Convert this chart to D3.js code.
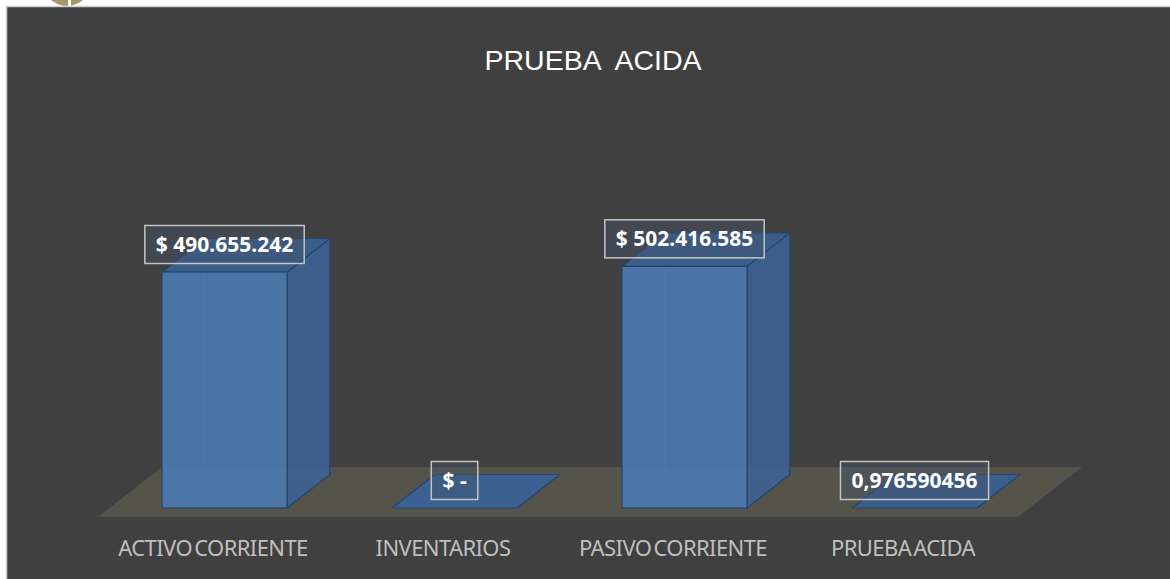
<!DOCTYPE html>
<html>
<head>
<meta charset="utf-8">
<script src="https://cdn.jsdelivr.net/npm/d3@7"></script>
<style>
  body { margin: 0; background: #fff; }
  svg { display: block; }
</style>
</head>
<body>
<div id="chart"></div>
<script>
var categories = ["ACTIVO CORRIENTE", "INVENTARIOS", "PASIVO CORRIENTE", "PRUEBA ACIDA"];
var values = [490655242, 0, 502416585, 0.976590456];
var currency = [true, true, true, false];

var W = 1170, H = 579;

// floor geometry (front edge + depth vector)
var floor = {left: 98, right: 1018, y: 517, dx: 64, dy: -50};
var barFront = 0.18, barBack = 0.85;   // depth fractions

var es = d3.formatLocale({decimal: ",", thousands: ".", grouping: [3], currency: ["$ ", ""]});
function labelText(v, i) {
    if (!currency[i]) return es.format(".9f")(v);
    if (v === 0) return "$ -";
    return es.format("$,.0f")(v);
}

var svg = d3.select("#chart").append("svg")
    .attr("width", W)
    .attr("height", H);

// bit of the logo peeking above the chart
svg.append("ellipse")
    .attr("cx", 67).attr("cy", -20).attr("rx", 25).attr("ry", 26)
    .style("fill", "#a8966e");
svg.append("rect")
    .attr("x", 68).attr("y", 0).attr("width", 3).attr("height", 6)
    .style("fill", "#fff");

svg.append("rect")
    .attr("x", 6.5).attr("y", 6.5)
    .attr("width", W).attr("height", H)
    .style("fill", "#404040")
    .style("stroke", "#cfcfcf")
    .style("stroke-width", 1.5);

// title
svg.append("text")
    .attr("x", 593).attr("y", 70)
    .attr("text-anchor", "middle")
    .style("font-family", "'Liberation Sans', Arial, sans-serif")
    .style("font-size", "28.5px")
    .style("fill", "#fff")
    .style("white-space", "pre")
    .text("PRUEBA  ACIDA");

// category scale across the floor front edge
var xCat = d3.scaleBand()
    .domain(categories)
    .range([floor.left, floor.right])
    .padding(0);

// bars sit inside each category slot
var xBar = d3.scaleBand()
    .domain(categories)
    .range([floor.left, floor.right])
    .paddingInner(0.4565)
    .paddingOuter(0.4565 / 2);

var yH = d3.scaleLinear()
    .domain([0, 600000000])
    .range([0, 288.6]);

function pts(a) {
    return a.map(function (p) { return p[0] + "," + p[1]; }).join(" ");
}

// floor
svg.append("polygon")
    .attr("points", pts([
        [floor.left, floor.y],
        [floor.right, floor.y],
        [floor.right + floor.dx, floor.y + floor.dy],
        [floor.left + floor.dx, floor.y + floor.dy]
    ]))
    .style("fill", "#55544b");

var offX = floor.dx * barFront, offY = floor.dy * barFront;
var dX = floor.dx * (barBack - barFront), dY = floor.dy * (barBack - barFront);

var bars = categories.map(function (c, i) {
    var x0 = xBar(c) + offX,
        x1 = x0 + xBar.bandwidth(),
        yb = floor.y + offY,
        yt = yb - yH(values[i]);
    return {cat: c, value: values[i], i: i, x0: x0, x1: x1, yb: yb, yt: yt};
});

var g = svg.selectAll(".bar3d")
    .data(bars)
    .enter()
    .append("g")
    .attr("class", "bar3d");

// hidden back edges, seen faintly through the faces
g.filter(function (d) { return d.yt < d.yb; })
    .append("polyline")
    .attr("points", function (d) {
        return pts([[d.x0 + dX, d.yt + dY], [d.x0 + dX, d.yb + dY], [d.x1 + dX, d.yb + dY]]);
    })
    .style("fill", "none")
    .style("stroke", "#5b86bb")
    .style("stroke-width", 1);
g.filter(function (d) { return d.yt < d.yb; })
    .append("line")
    .attr("x1", function (d) { return d.x0; })
    .attr("y1", function (d) { return d.yb; })
    .attr("x2", function (d) { return d.x0 + dX; })
    .attr("y2", function (d) { return d.yb + dY; })
    .style("stroke", "#5b86bb")
    .style("stroke-width", 1);

// side
g.filter(function (d) { return d.yt < d.yb; })
    .append("polygon")
    .attr("points", function (d) {
        return pts([[d.x1, d.yb], [d.x1 + dX, d.yb + dY], [d.x1 + dX, d.yt + dY], [d.x1, d.yt]]);
    })
    .style("fill", "#3d6190")
    .style("fill-opacity", 0.93)
    .style("stroke", "#27456c")
    .style("stroke-width", 1.2)
    .style("stroke-linejoin", "round");

// top
g.append("polygon")
    .attr("points", function (d) {
        return pts([[d.x0, d.yt], [d.x1, d.yt], [d.x1 + dX, d.yt + dY], [d.x0 + dX, d.yt + dY]]);
    })
    .style("fill", function (d) { return d.yt < d.yb ? "#3a5d8a" : "#3a6192"; })
    .style("stroke", "#27456c")
    .style("stroke-width", 1.2)
    .style("stroke-linejoin", "round");

// front
g.filter(function (d) { return d.yt < d.yb; })
    .append("rect")
    .attr("x", function (d) { return d.x0; })
    .attr("y", function (d) { return d.yt; })
    .attr("width", xBar.bandwidth())
    .attr("height", function (d) { return d.yb - d.yt; })
    .style("fill", "#4b78ae")
    .style("fill-opacity", 0.93)
    .style("stroke", "#27456c")
    .style("stroke-width", 1.2);

// data labels
var lab = svg.selectAll(".dlabel")
    .data(bars)
    .enter()
    .append("g")
    .attr("class", "dlabel")
    .attr("transform", function (d) {
        return "translate(" + ((d.x0 + d.x1) / 2) + "," + (d.yt - 27.5) + ")";
    });

lab.append("rect")
    .attr("class", "lbox");

lab.append("text")
    .attr("text-anchor", "middle")
    .attr("y", 7.5)
    .style("font-family", "'Noto Sans', 'Open Sans', sans-serif")
    .style("font-weight", "bold")
    .style("font-size", "21px")
    .style("fill", "#fff")
    .text(function (d) { return labelText(d.value, d.i); });

lab.each(function () {
    var t = d3.select(this).select("text").node().getBBox();
    d3.select(this).select("rect")
        .attr("x", -t.width / 2 - 11)
        .attr("y", -19)
        .attr("width", t.width + 22)
        .attr("height", 38)
        .style("fill", "#46566c")
        .style("fill-opacity", 0.4)
        .style("stroke", "#c4c4c4")
        .style("stroke-width", 1.5);
});

// category labels
svg.selectAll(".cat")
    .data(categories)
    .enter()
    .append("text")
    .attr("class", "cat")
    .attr("x", function (d) { return xCat(d) + xCat.bandwidth() / 2; })
    .attr("y", 556)
    .attr("text-anchor", "middle")
    .style("font-family", "'Noto Sans', 'Open Sans', sans-serif")
    .style("font-size", "22px")
    .style("letter-spacing", "-0.6px")
    .style("word-spacing", "-3px")
    .style("fill", "#bfbfbf")
    .text(function (d) { return d; });
</script>
</body>
</html>
